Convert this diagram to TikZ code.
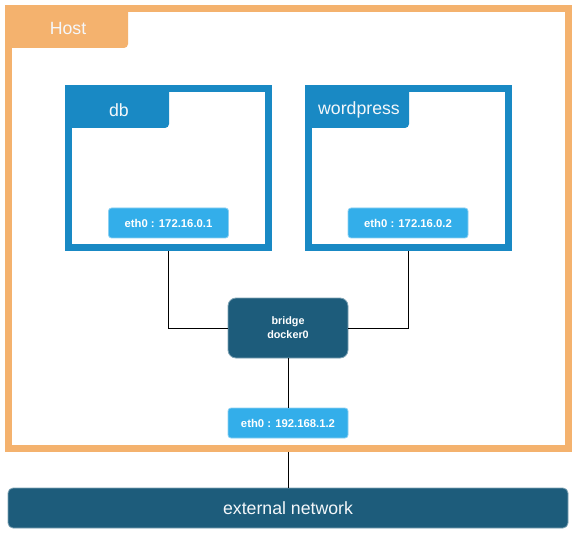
\documentclass[tikz,border=0pt]{standalone}
\usepackage{fontspec}
\setmainfont{Liberation Sans}
\definecolor{hostor}{HTML}{F4B26E}
\definecolor{ctblue}{HTML}{1989C4}
\definecolor{ethblue}{HTML}{33AEEA}
\definecolor{ethedge}{HTML}{8CD0F2}
\definecolor{darkteal}{HTML}{1D5C7B}
\definecolor{tealedge}{HTML}{7FA3B5}
\definecolor{offwhite}{HTML}{F4F7FA}
\tikzset{
  hostbox/.style={draw=hostor, line width=7pt, minimum width=560pt, minimum height=440pt, inner sep=0pt},
  ctbox/.style={draw=ctblue, line width=7pt, minimum width=200pt, minimum height=159pt, inner sep=0pt},
  ethbox/.style={fill=ethblue, draw=ethedge, line width=0.8pt, rounded corners=3pt, minimum width=120pt, minimum height=30pt, inner sep=0pt, text=white, font=\fontsize{11.3}{13}\selectfont\bfseries},
  bridgebox/.style={fill=darkteal, draw=tealedge, line width=0.8pt, rounded corners=8pt, minimum width=120pt, minimum height=60pt, inner sep=0pt, text=white, align=center, font=\fontsize{10.8}{14}\selectfont\bfseries},
  extbox/.style={fill=darkteal, draw=tealedge, line width=0.8pt, rounded corners=5pt, minimum width=560pt, minimum height=40pt, inner sep=0pt, text=offwhite, font=\fontsize{17.7}{20}\selectfont},
  titletext/.style={text=offwhite, inner sep=0pt, font=\fontsize{17.7}{20}\selectfont},
  wire/.style={draw=black, line width=0.9pt}
}
\begin{document}
\begin{tikzpicture}[x=1pt,y=-1pt]
\useasboundingbox[fill=white] (0,0) rectangle (577,534);
% host
\node[hostbox] (host) at (288.5,228.5) {};
\fill[hostor] (8.5,8.5) -- (128,8.5) [rounded corners=4pt] -- (128,48) [sharp corners] -- (8.5,48) -- cycle;
\node[titletext] (hosttitle) at (68,29) {Host};
% containers
\node[ctbox] (db) at (168.5,168) {};
\fill[ctblue] (68.5,88.5) -- (169,88.5) [rounded corners=4pt] -- (169,128) [sharp corners] -- (68.5,128) -- cycle;
\node[titletext] (dbtitle) at (119,110) {db};
\node[ctbox] (wp) at (408.5,168) {};
\fill[ctblue] (308.5,88.5) -- (409,88.5) [rounded corners=4pt] -- (409,128) [sharp corners] -- (308.5,128) -- cycle;
\node[titletext] (wptitle) at (359,110) {wordpress};
% interfaces
\node[ethbox] (dbeth) at (168.5,223) {eth0 : 172.16.0.1};
\node[ethbox] (wpeth) at (408,223) {eth0 : 172.16.0.2};
\node[bridgebox] (bridge) at (288,328) {bridge\\docker0};
\node[ethbox] (hosteth) at (288,423) {eth0 : 192.168.1.2};
\node[extbox] (ext) at (288,508) {external network};
% wires
\draw[wire] (db.south) |- (bridge.west);
\draw[wire] (wp.south) |- (bridge.east);
\draw[wire] (bridge.south) -- (hosteth.north);
\draw[wire] (host.south -| ext.north) -- (ext.north);
\end{tikzpicture}
\end{document}
